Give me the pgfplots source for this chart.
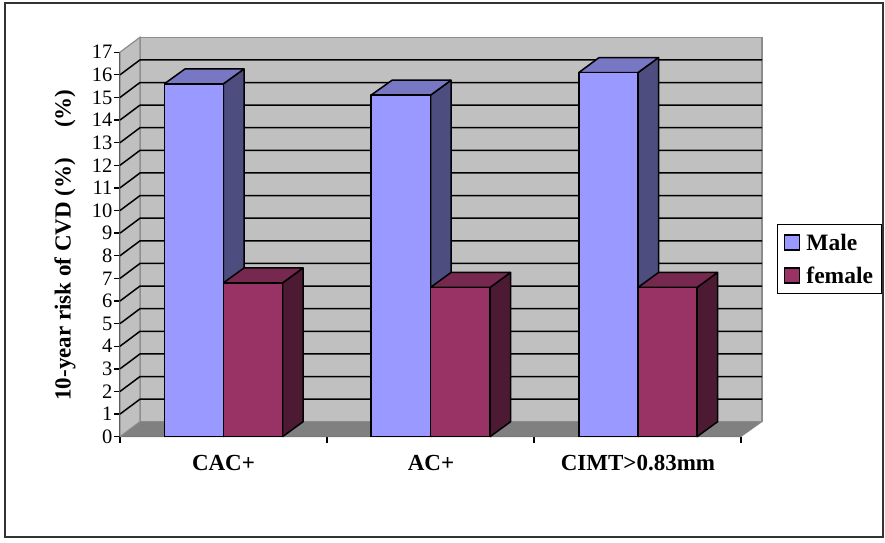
\documentclass[border=0pt]{standalone}
\usepackage{pgfplots}
\pgfplotsset{compat=1.18}
\usepackage{fontspec}
\setmainfont{Liberation Serif}
\definecolor{wall}{HTML}{C0C0C0}
\definecolor{wallline}{HTML}{8C8C8C}
\definecolor{floorc}{HTML}{808080}
\definecolor{mfront}{HTML}{9999FF}
\definecolor{mtop}{HTML}{7777C4}
\definecolor{mside}{HTML}{4D4D80}
\definecolor{ffront}{HTML}{993366}
\definecolor{ftop}{HTML}{77284F}
\definecolor{fside}{HTML}{4D1A33}
\begin{document}
\begin{tikzpicture}[x=1pt,y=1pt]
\fill[white] (0,0) rectangle (885,542);
\draw[line width=1.8pt,black!80] (5,5.3) rectangle (882.7,538.7);
\begin{axis}[
  at={(120pt,105.3pt)}, anchor=south west,
  scale only axis, width=621pt, height=384.5pt,
  xmin=120, xmax=741, ymin=0, ymax=17,
  clip=false,
  axis x line*=bottom, axis y line*=left,
  axis line style={-, line width=1.5pt, black},
  ytick={0,1,2,3,4,5,6,7,8,9,10,11,12,13,14,15,16,17},
  xtick={223.5,431,638},
  xticklabels={CAC+,AC+,CIMT>0.83mm},
  minor xtick={120,327,534,741},
  major tick length=6pt,
  minor tick length=6pt,
  xtick align=outside, ytick align=outside,
  major y tick style={black, line width=1.3pt},
  major x tick style={draw=none},
  minor x tick style={black, line width=1.3pt},
  /pgf/number format/assume math mode=true,
  y tick label style={font=\fontsize{20.5}{21}\selectfont, inner sep=1.5pt},
  x tick label style={font=\fontsize{23}{24}\selectfont\bfseries, yshift=-9pt},
  every axis y label/.style={at={(axis cs:65,8.47)}, rotate=90, anchor=center,
    font=\fontsize{23}{24}\selectfont\bfseries},
  ylabel={10-year risk of CVD (\%)\hspace{30pt}(\%)},
  legend cell align=left,
  legend style={at={(axis description cs:1.058,0.553)}, anchor=north west,
    draw=black, line width=1.3pt, font=\fontsize{23.5}{24}\selectfont\bfseries,
    inner xsep=6.5pt, inner ysep=7pt, row sep=11pt, /tikz/every even column/.style={column sep=4pt}},
  legend image code/.code={\draw[#1,line width=1.3pt] (0pt,-7.5pt) rectangle (15pt,7.5pt);\path (19pt,0pt);},
]
% walls
\addplot[forget plot, fill=wall, draw=wallline, line width=1.2pt] coordinates {(140,0.66)(762,0.66)(762,17.66)(140,17.66)(140,0.66)};
\addplot[forget plot, fill=wall, draw=wallline, line width=1.2pt] coordinates {(120,0)(140,0.66)(140,17.66)(120,17)(120,0)};
\addplot[forget plot, fill=floorc, draw=wallline, line width=0.6pt] coordinates {(120,0)(140,0.66)(762,0.66)(741,0)(120,0)};
% gridlines
\addplot[forget plot, black, line width=1.5pt, unbounded coords=jump] coordinates {
(120,1)(140,1.66)(762,1.66)(nan,nan)
(120,2)(140,2.66)(762,2.66)(nan,nan)
(120,3)(140,3.66)(762,3.66)(nan,nan)
(120,4)(140,4.66)(762,4.66)(nan,nan)
(120,5)(140,5.66)(762,5.66)(nan,nan)
(120,6)(140,6.66)(762,6.66)(nan,nan)
(120,7)(140,7.66)(762,7.66)(nan,nan)
(120,8)(140,8.66)(762,8.66)(nan,nan)
(120,9)(140,9.66)(762,9.66)(nan,nan)
(120,10)(140,10.66)(762,10.66)(nan,nan)
(120,11)(140,11.66)(762,11.66)(nan,nan)
(120,12)(140,12.66)(762,12.66)(nan,nan)
(120,13)(140,13.66)(762,13.66)(nan,nan)
(120,14)(140,14.66)(762,14.66)(nan,nan)
(120,15)(140,15.66)(762,15.66)(nan,nan)
(120,16)(140,16.66)(762,16.66)
};
\pgfplotsset{barface/.style={forget plot, draw=black, line width=1.5pt, line join=round}}
% Bar 1 male 15.6
\addplot[barface, fill=mside] coordinates {(223.3,0)(244,0.66)(244,16.26)(223.3,15.6)(223.3,0)};
\addplot[barface, fill=mtop] coordinates {(164.3,15.6)(185,16.26)(244,16.26)(223.3,15.6)(164.3,15.6)};
\addplot[barface, fill=mfront] coordinates {(164.3,0)(223.3,0)(223.3,15.6)(164.3,15.6)(164.3,0)};
% Bar 1 female 6.8
\addplot[barface, fill=fside] coordinates {(282.5,0)(303,0.66)(303,7.46)(282.5,6.8)(282.5,0)};
\addplot[barface, fill=ftop] coordinates {(223.3,6.8)(244,7.46)(303,7.46)(282.5,6.8)(223.3,6.8)};
\addplot[barface, fill=ffront] coordinates {(223.3,0)(282.5,0)(282.5,6.8)(223.3,6.8)(223.3,0)};
% Bar 2 male 15.1
\addplot[barface, fill=mside] coordinates {(430.5,0)(451,0.66)(451,15.76)(430.5,15.1)(430.5,0)};
\addplot[barface, fill=mtop] coordinates {(371,15.1)(392,15.76)(451,15.76)(430.5,15.1)(371,15.1)};
\addplot[barface, fill=mfront] coordinates {(371,0)(430.5,0)(430.5,15.1)(371,15.1)(371,0)};
% Bar 2 female 6.6
\addplot[barface, fill=fside] coordinates {(490,0)(510.5,0.66)(510.5,7.26)(490,6.6)(490,0)};
\addplot[barface, fill=ftop] coordinates {(430.5,6.6)(451,7.26)(510.5,7.26)(490,6.6)(430.5,6.6)};
\addplot[barface, fill=ffront] coordinates {(430.5,0)(490,0)(490,6.6)(430.5,6.6)(430.5,0)};
% Bar 3 male 16.1
\addplot[barface, fill=mside] coordinates {(638,0)(658.5,0.66)(658.5,16.76)(638,16.1)(638,0)};
\addplot[barface, fill=mtop] coordinates {(578.8,16.1)(599,16.76)(658.5,16.76)(638,16.1)(578.8,16.1)};
\addplot[barface, fill=mfront] coordinates {(578.8,0)(638,0)(638,16.1)(578.8,16.1)(578.8,0)};
% Bar 3 female 6.6
\addplot[barface, fill=fside] coordinates {(697,0)(717.5,0.66)(717.5,7.26)(697,6.6)(697,0)};
\addplot[barface, fill=ftop] coordinates {(638,6.6)(658.5,7.26)(717.5,7.26)(697,6.6)(638,6.6)};
\addplot[barface, fill=ffront] coordinates {(638,0)(697,0)(697,6.6)(638,6.6)(638,0)};
\addlegendimage{fill=mfront, draw=black}
\addlegendentry{Male}
\addlegendimage{fill=ffront, draw=black}
\addlegendentry{female}
\end{axis}
\end{tikzpicture}
\end{document}
